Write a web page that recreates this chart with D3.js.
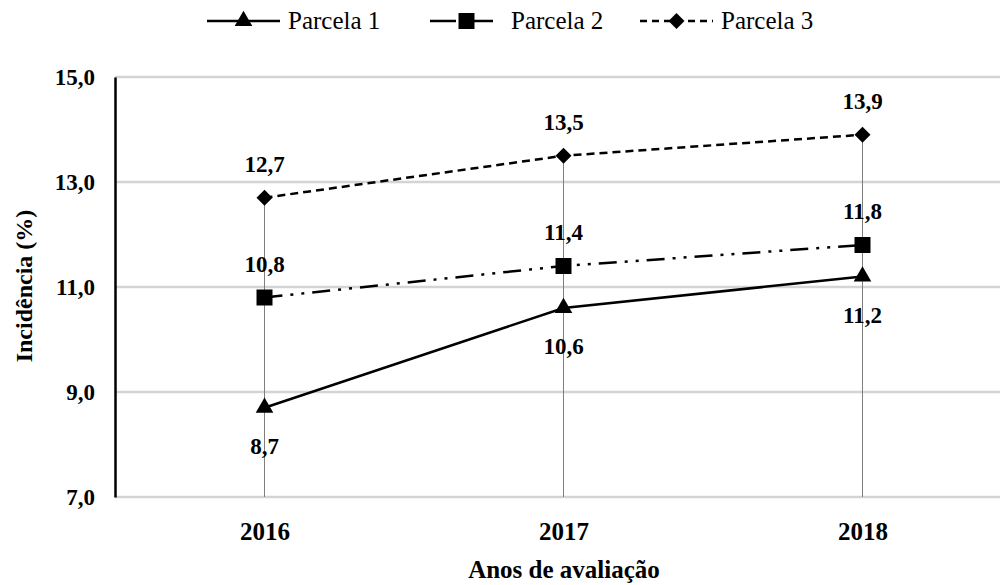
<!DOCTYPE html>
<html>
<head>
<meta charset="utf-8">
<script src="https://cdn.jsdelivr.net/npm/d3@7"></script>
<style>
  text { font-family: 'Times New Roman'; }
</style>
</head>
<body style="margin:0">
<svg id="chart" width="1000" height="585"></svg>
<script>
// Anos e séries de incidência (%)
const anos = ["2016", "2017", "2018"];
const parcela1 = [8.7, 10.6, 11.2];
const parcela2 = [10.8, 11.4, 11.8];
const parcela3 = [12.7, 13.5, 13.9];
const yTicks = [7, 9, 11, 13, 15];
const serieNomes = ["Parcela 1", "Parcela 2", "Parcela 3"];

const FONTE = "Times New Roman";

const seriesCfg = [
  { nome: serieNomes[0], valores: parcela1, dash: null, simbolo: d3.symbolTriangle, area: 135, rot: 0, rotulo: "abaixo" },
  { nome: serieNomes[1], valores: parcela2, dash: "18,8,3,8,3,8", simbolo: d3.symbolSquare, area: 256, rot: 0, rotulo: "acima" },
  { nome: serieNomes[2], valores: parcela3, dash: "8,5", simbolo: d3.symbolSquare, area: 128, rot: 45, rotulo: "acima" }
];

const svg = d3.select("#chart");
const mLeft = 115, mRight = 1012, mTop = 77, mBottom = 497;

const x = d3.scalePoint().domain(anos).range([mLeft, mRight]).padding(0.5);
const y = d3.scaleLinear().domain([7, 15]).range([mBottom, mTop]);
const fmt = v => d3.format(".1f")(v).replace(".", ",");

// Aplica a fonte serifada a um texto
const serif = (sel, tam, negrito) => sel
  .attr("font-family", FONTE)
  .style("font-family", `'${FONTE}'`)
  .attr("font-size", tam)
  .attr("font-weight", negrito ? "bold" : null)
  .attr("fill", "#000");

// Linhas de grade horizontais
svg.append("g")
  .selectAll("line")
  .data(yTicks)
  .join("line")
  .attr("x1", mLeft).attr("x2", 1000)
  .attr("y1", d => y(d)).attr("y2", d => y(d))
  .attr("stroke", "#d4d4d4").attr("stroke-width", 2.5);

// Linhas verticais de queda até o eixo
svg.append("g")
  .selectAll("line")
  .data(anos.map((a, i) => ({ a, v: d3.max(seriesCfg, s => s.valores[i]) })))
  .join("line")
  .attr("x1", d => x(d.a)).attr("x2", d => x(d.a))
  .attr("y1", d => y(d.v)).attr("y2", mBottom)
  .attr("stroke", "#7f7f7f").attr("stroke-width", 1);

// Eixo Y
const yAxis = svg.append("g")
  .attr("transform", `translate(${mLeft},0)`)
  .call(d3.axisLeft(y).tickValues(yTicks).tickFormat(fmt).tickSize(0).tickPadding(20));
yAxis.attr("font-family", FONTE).attr("font-size", null);
yAxis.select(".domain").attr("stroke", "#000").attr("stroke-width", 2.5);
serif(yAxis.selectAll("text"), 23, true).attr("dy", "0.32em");

// Eixo X (apenas rótulos)
const xAxis = svg.append("g")
  .attr("transform", `translate(0,${mBottom})`)
  .call(d3.axisBottom(x).tickSize(0).tickPadding(25));
xAxis.attr("font-family", FONTE).attr("font-size", null);
xAxis.select(".domain").remove();
serif(xAxis.selectAll("text"), 25, true);

// Títulos dos eixos
serif(svg.append("text"), 25, true)
  .attr("x", 564).attr("y", 578)
  .attr("text-anchor", "middle")
  .text("Anos de avaliação");

serif(svg.append("text"), 24, true)
  .attr("transform", "translate(32,286) rotate(-90)")
  .attr("text-anchor", "middle")
  .text("Incidência (%)");

// Séries
const linha = d3.line().x((d, i) => x(anos[i])).y(d => y(d));

seriesCfg.forEach(s => {
  const g = svg.append("g");
  g.append("path")
    .datum(s.valores)
    .attr("d", linha)
    .attr("fill", "none")
    .attr("stroke", "#000")
    .attr("stroke-width", 2.5)
    .attr("stroke-dasharray", s.dash);
  g.selectAll("path.marca")
    .data(s.valores)
    .join("path")
    .attr("class", "marca")
    .attr("transform", (d, i) => `translate(${x(anos[i])},${y(d)}) rotate(${s.rot})`)
    .attr("d", d3.symbol().type(s.simbolo).size(s.area))
    .attr("fill", "#000");
  serif(g.selectAll("text").data(s.valores).join("text"), 23, true)
    .attr("x", (d, i) => x(anos[i]))
    .attr("y", d => s.rotulo === "acima" ? y(d) - 26 : y(d) + 46)
    .attr("text-anchor", "middle")
    .text(d => fmt(d));
});

// Legenda
const legX = [207, 430, 640];
const legDash = [null, "26,11", "7,5"];
const leg = svg.append("g");
seriesCfg.forEach((s, i) => {
  const g = leg.append("g").attr("transform", `translate(${legX[i]},21)`);
  g.append("line")
    .attr("x1", 0).attr("x2", 73).attr("y1", 0).attr("y2", 0)
    .attr("stroke", "#000").attr("stroke-width", 2.5)
    .attr("stroke-dasharray", legDash[i]);
  g.append("path")
    .attr("transform", `translate(36.5,0) rotate(${s.rot})`)
    .attr("d", d3.symbol().type(s.simbolo).size(s.area))
    .attr("fill", "#000");
  serif(g.append("text"), 25, false)
    .attr("x", 81).attr("y", 8)
    .text(s.nome);
});
</script>
</body>
</html>
